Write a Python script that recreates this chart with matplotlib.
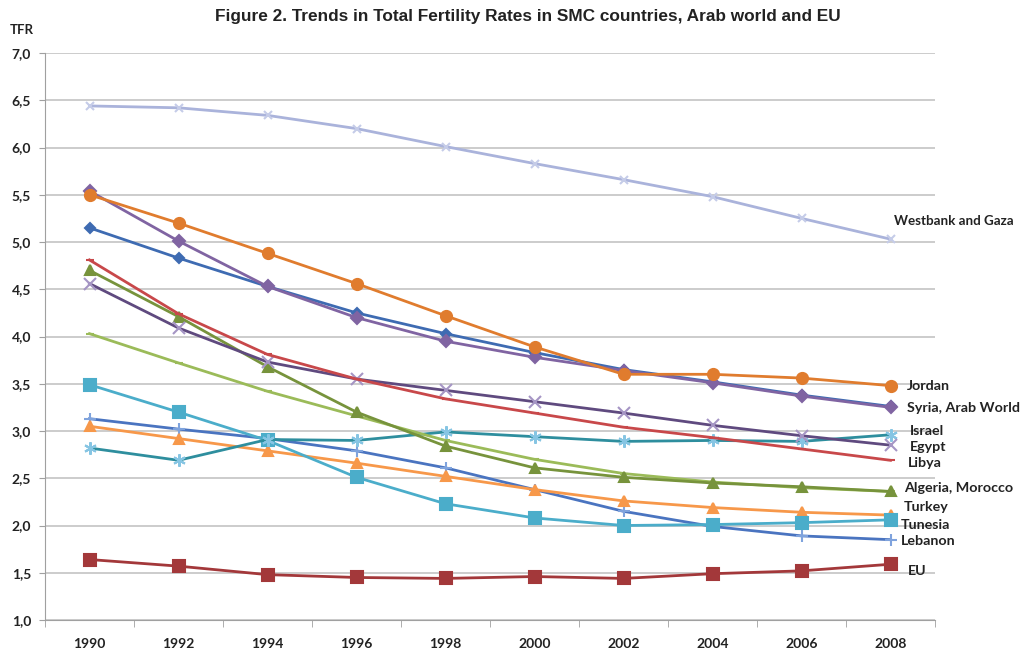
"""Trends in Total Fertility Rates in SMC countries, Arab world and EU."""

import matplotlib.pyplot as plt

years = ["1990", "1992", "1994", "1996", "1998", "2000", "2002", "2004", "2006", "2008"]

westbank = [6.44, 6.42, 6.34, 6.20, 6.01, 5.83, 5.66, 5.48, 5.25, 5.03]
jordan = [5.50, 5.20, 4.88, 4.56, 4.22, 3.89, 3.60, 3.60, 3.56, 3.48]
syria = [5.54, 5.01, 4.53, 4.20, 3.95, 3.78, 3.64, 3.51, 3.37, 3.25]
arab_world = [5.15, 4.83, 4.53, 4.25, 4.03, 3.83, 3.65, 3.52, 3.38, 3.26]
libya = [4.81, 4.24, 3.81, 3.55, 3.34, 3.19, 3.04, 2.93, 2.81, 2.69]
egypt = [4.56, 4.09, 3.73, 3.55, 3.43, 3.31, 3.19, 3.06, 2.95, 2.85]
algeria = [4.70, 4.21, 3.68, 3.20, 2.84, 2.61, 2.51, 2.45, 2.41, 2.36]
morocco = [4.03, 3.72, 3.42, 3.16, 2.90, 2.70, 2.55, 2.46, 2.40, 2.36]
israel = [2.82, 2.69, 2.91, 2.90, 2.99, 2.94, 2.89, 2.90, 2.89, 2.96]
tunesia = [3.49, 3.20, 2.90, 2.51, 2.23, 2.08, 2.00, 2.01, 2.03, 2.06]
turkey = [3.05, 2.92, 2.79, 2.66, 2.52, 2.38, 2.26, 2.19, 2.14, 2.11]
lebanon = [3.13, 3.02, 2.92, 2.79, 2.61, 2.38, 2.15, 1.99, 1.89, 1.85]
eu = [1.64, 1.57, 1.48, 1.45, 1.44, 1.46, 1.44, 1.49, 1.52, 1.59]

yticks = [1.0, 1.5, 2.0, 2.5, 3.0, 3.5, 4.0, 4.5, 5.0, 5.5, 6.0, 6.5, 7.0]

# (values, line colour, marker, marker size, marker colour)
series = [
    (westbank, "#AAB3DB", "x", 6, "#C5CCE8"),
    (eu, "#A3383A", "s", 8, "#A3383A"),
    (lebanon, "#4A74C0", "+", 9, "#7FA3DD"),
    (turkey, "#F7984A", "^", 7, "#F7984A"),
    (tunesia, "#4BADCA", "s", 8, "#4BADCA"),
    (israel, "#2E8E9E", (6, 2, 0), 9, "#86C5E3"),
    (morocco, "#9BBB59", "_", 6, "#9BBB59"),
    (algeria, "#77933C", "^", 7, "#77933C"),
    (egypt, "#5F4A7F", "x", 8, "#A595C4"),
    (libya, "#C8484A", "_", 6, "#C8484A"),
    (arab_world, "#3E6BB2", "D", 5, "#3E6BB2"),
    (syria, "#8064A2", "D", 6, "#8064A2"),
    (jordan, "#E07C2E", "o", 8, "#E07C2E"),
]

labels = [
    ("Westbank and Gaza", 5.22, 9.04, 9.6),
    ("Jordan", 3.48, 9.18, 10.3),
    ("Syria, Arab World", 3.24, 9.18, 10.3),
    ("Israel", 3.0, 9.22, 10.3),
    ("Egypt", 2.83, 9.22, 10.3),
    ("Libya", 2.66, 9.2, 10.3),
    ("Algeria, Morocco", 2.40, 9.15, 10.3),
    ("Turkey", 2.20, 9.15, 10.3),
    ("Tunesia", 2.01, 9.12, 10.3),
    ("Lebanon", 1.84, 9.12, 10.3),
    ("EU", 1.52, 9.2, 10.3),
]

fig = plt.figure(figsize=(10.25, 6.53), dpi=100)
ax = fig.add_axes([45 / 1025, 33 / 653, 890 / 1025, 567 / 653])

x = list(range(len(years)))
for values, color, marker, size, mcolor in series:
    ax.plot(x, values, color=color, linewidth=2, marker=marker, markersize=size,
            markerfacecolor=mcolor, markeredgecolor=mcolor, markeredgewidth=1.5)

for text, y, xpos, size in labels:
    ax.text(xpos, y, text, fontsize=size, fontweight="bold", family="Lato",
            color="#222222", va="center", ha="left", clip_on=False)

ax.set_xlim(-0.5, 9.5)
ax.set_ylim(1.0, 7.0)
ax.set_yticks(yticks)
ax.set_yticklabels([f"{v:.1f}".replace(".", ",") for v in yticks])
ax.set_xticks(x)
ax.set_xticklabels(years)
ax.set_xticks([i - 0.5 for i in range(len(years) + 1)], minor=True)
ax.tick_params(axis="x", which="major", length=0, pad=13)
ax.tick_params(axis="x", which="minor", length=5, color="#A0A0A0", direction="out")
ax.tick_params(axis="y", length=4, color="#A0A0A0", pad=6)
for lab in ax.get_xticklabels() + ax.get_yticklabels():
    lab.set_fontfamily("Lato")
    lab.set_fontweight("bold")
    lab.set_fontsize(10)
    lab.set_color("#222222")

ax.grid(axis="y", color="#C4C4C4", linewidth=1.2)
ax.set_axisbelow(True)
for side in ("top", "right"):
    ax.spines[side].set_visible(False)
ax.spines["left"].set_color("#A0A0A0")
ax.spines["bottom"].set_color("#A0A0A0")

fig.text(22 / 1025, 1 - 30 / 653, "TFR", fontsize=9.5, fontweight="bold",
         family="Lato", ha="center", va="center", color="#222222")
fig.suptitle("Figure 2. Trends in Total Fertility Rates in SMC countries, Arab world and EU",
             x=0.515, y=1 - 17 / 653, va="center", fontsize=12.4, fontweight="bold",
             family="Liberation Sans", color="#222222")

fig.savefig("out.png", dpi=100)
